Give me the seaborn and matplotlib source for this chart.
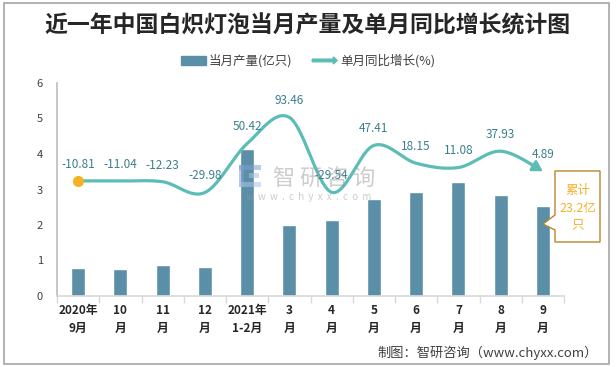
import numpy as np
import pandas as pd
import matplotlib
matplotlib.use('Agg')
import matplotlib.pyplot as plt
import matplotlib.patches as mpatches
from matplotlib.legend_handler import HandlerPatch
import seaborn as sns

# datos
meses = ['2020年\n9月', '10\n月', '11\n月', '12\n月', '2021年\n1-2月', '3\n月',
         '4\n月', '5\n月', '6\n月', '7\n月', '8\n月', '9\n月']
produccion = [0.79, 0.76, 0.87, 0.82, 4.13, 2.00, 2.14, 2.73, 2.93, 3.21, 2.84, 2.53]
crecimiento = [-10.81, -11.04, -12.23, -29.98, 50.42, 93.46, -29.54, 47.41, 18.15, 11.08, 37.93, 4.89]
etiquetas = ['-10.81', '-11.04', '-12.23', '-29.98', '50.42', '93.46', '-29.54', '47.41',
             '18.15', '11.08', '37.93', '4.89']
acumulado = '累计\n23.2亿\n只'

c_bar = '#5B8FA8'
c_line = '#5BBDB5'
c_lab = '#3A7F8E'
c_dot = '#F4B321'

sns.set_theme(style='white')
plt.rcParams['font.family'] = ['Noto Sans CJK SC', 'DejaVu Sans']

W, H = 616, 367
fx = lambda x: x / W
fy = lambda y: 1 - y / H

fig = plt.figure(figsize=(6.16, 3.67), dpi=100)
ax = fig.add_axes([fx(57), fy(296), (564 - 57) / W, (296 - 83) / H])

df = pd.DataFrame({'mes': meses, 'produccion': produccion})
sns.barplot(data=df, x='mes', y='produccion', color=c_bar, saturation=1, width=0.33, ax=ax)
ax.set_xlim(-0.5, 11.5)
ax.set_ylim(0, 6)
ax.set_yticks(range(7))
ax.set_xlabel('')
ax.set_ylabel('')
for s in ['top', 'right']:
    ax.spines[s].set_visible(False)
ax.spines['left'].set_color('#bfbfbf')
ax.spines['bottom'].set_color('#d9d9d9')
ax.set_xticks(np.arange(-0.5, 12, 1), minor=True)
ax.tick_params(axis='x', which='major', length=0, pad=6, labelsize=8.5, labelcolor='#262626')
ax.tick_params(axis='x', which='minor', length=5, color='#d9d9d9', width=1, bottom=True)
ax.tick_params(axis='y', length=0, pad=10, labelsize=8, labelcolor='#404040')
for t in ax.get_xticklabels():
    t.set_fontweight('bold')
    t.set_linespacing(1.45)

# linea suavizada en eje secundario
ax2 = ax.twinx()
ax2.set_ylim(-200, 150)
ax2.axis('off')
n = len(crecimiento)
P = np.column_stack([np.arange(n), crecimiento]).astype(float)
Pe = np.vstack([P[0], P, P[-1]])
t = np.linspace(0, 1, 40)[:, None]
curva = []
for i in range(n - 1):
    p0, p1, p2, p3 = Pe[i], Pe[i + 1], Pe[i + 2], Pe[i + 3]
    c1 = p1 + (p2 - p0) / 6
    c2 = p2 - (p3 - p1) / 6
    seg = (1 - t) ** 3 * p1 + 3 * (1 - t) ** 2 * t * c1 + 3 * (1 - t) * t ** 2 * c2 + t ** 3 * p2
    curva.append(seg if i == 0 else seg[1:])
curva = np.vstack(curva)
ax2.plot(curva[:-6, 0], curva[:-6, 1], color=c_line, lw=2.3, solid_capstyle='butt', zorder=3)
ax2.annotate('', xy=tuple(curva[-1]), xytext=tuple(curva[-14]),
             arrowprops=dict(arrowstyle='-|>,head_length=0.6,head_width=0.35', color=c_line,
                             lw=2.0, mutation_scale=10, shrinkA=0, shrinkB=0), zorder=3)
ax2.plot(0, crecimiento[0], 'o', color=c_dot, ms=7, zorder=4)
for i, (v, lab) in enumerate(zip(crecimiento, etiquetas)):
    ax2.annotate(lab, (i, v), xytext=(0, 12), textcoords='offset points', ha='center',
                 va='center', fontsize=8.5, color=c_lab, zorder=5)

# marca de agua
for k, ch in enumerate('智研咨询'):
    fig.text(fx(283 + 27 * k), fy(178), ch, fontsize=16, color='#9a9a9a', alpha=0.5,
             ha='center', va='center', zorder=6)
fig.text(fx(309), fy(197), 'w  w  w  .  c  h  y  x  x  .  c  o  m', fontsize=7, color='#9a9a9a',
         alpha=0.5, ha='center', va='center', zorder=6)
for (x0, y0, w0, h0, col) in [(239, 165, 5, 22, '#7f9fcf'), (239, 165, 22, 5, '#7f9fcf'),
                              (239, 182, 22, 5, '#a9c4e6'), (249, 173, 10, 5, '#a9c4e6')]:
    fig.patches.append(mpatches.Rectangle((fx(x0), fy(y0 + h0)), w0 / W, h0 / H,
                                          transform=fig.transFigure, color=col, alpha=0.55,
                                          lw=0, zorder=6))

# titulo y leyenda
fig.text(fx(307), fy(26), '近一年中国白炽灯泡当月产量及单月同比增长统计图', fontsize=16.5,
         fontweight='bold', color='#262626', ha='center', va='center')


def flecha(legend, orig_handle, xdescent, ydescent, width, height, fontsize):
    return mpatches.FancyArrow(0, 0.5 * height, width, 0, length_includes_head=True,
                               head_width=0.8 * height, head_length=0.45 * height,
                               width=0.3 * height, color=c_line, lw=0)


h_bar = mpatches.Patch(color=c_bar, label='当月产量(亿只)')
h_line = mpatches.FancyArrow(0, 0, 1, 0, color=c_line, label='单月同比增长(%)')
fig.legend(handles=[h_bar, h_line], loc='center', bbox_to_anchor=(fx(308), fy(61)), ncol=2,
           frameon=False, fontsize=9, handlelength=2.0, handleheight=0.7, handletextpad=0.25,
           columnspacing=1.6, labelcolor='#404040',
           handler_map={mpatches.FancyArrow: HandlerPatch(patch_func=flecha)})

# cuadro de acumulado
poli = [(555, 171), (600, 171), (600, 242), (555, 242), (555, 230), (543, 224), (555, 215)]
fig.patches.append(mpatches.Polygon([(fx(a), fy(b)) for a, b in poli], closed=True,
                                    transform=fig.transFigure, facecolor='white',
                                    edgecolor='#B8862B', lw=1, zorder=7))
fig.text(fx(578), fy(208), acumulado, fontsize=9, color='#F2B12F', ha='center', va='center',
         linespacing=1.45, zorder=8)

fig.text(fx(598), fy(353), '制图：智研咨询（www.chyxx.com）', fontsize=9.5, color='#404040',
         ha='right', va='center')
fig.patches.append(mpatches.Rectangle((fx(4), fy(364)), 605 / W, 361 / H, fill=False,
                                      edgecolor='#a6a6a6', lw=1.2, transform=fig.transFigure))

fig.savefig('out.png', dpi=100)
